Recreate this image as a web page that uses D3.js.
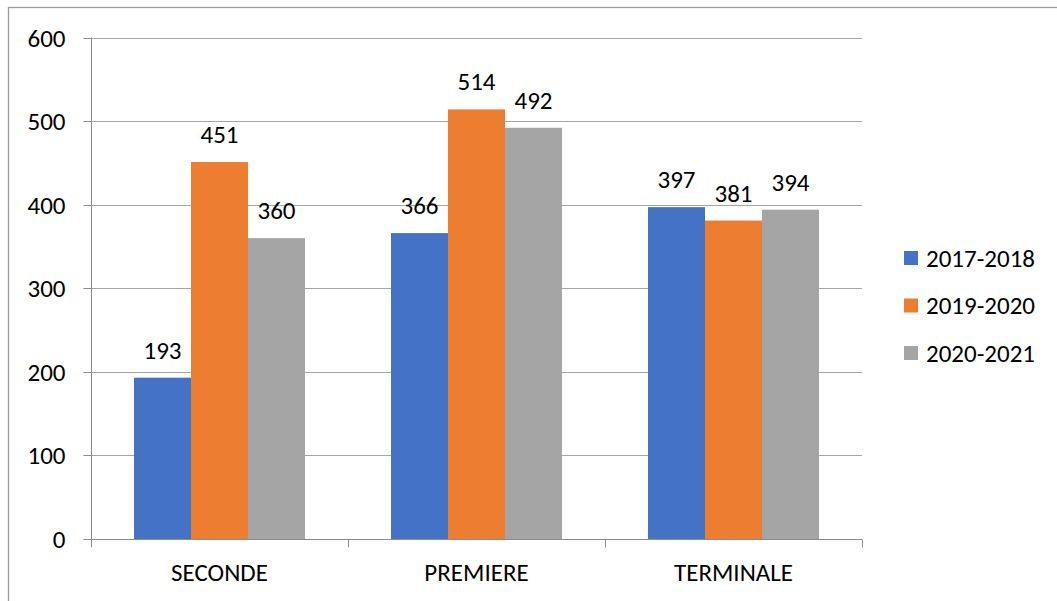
<!DOCTYPE html>
<html><head><meta charset="utf-8">
<script src="https://cdn.jsdelivr.net/npm/d3@7"></script>
<style>body{margin:0;background:#fff}svg{display:block}text{font-family:Carlito,"Open Sans","Liberation Sans",sans-serif;fill:#000}</style>
</head><body><svg id="c" width="1057" height="601"></svg>
<script>
const categories = ["SECONDE", "PREMIERE", "TERMINALE"];
const seriesNames = ["2017-2018", "2019-2020", "2020-2021"];
const values2017 = [193, 366, 397];
const values2019 = [451, 514, 381];
const values2020 = [360, 492, 394];
const colors = ["#4472c4", "#ed7d31", "#a5a5a5"];
const yTicks = [0, 100, 200, 300, 400, 500, 600];

const series = [values2017, values2019, values2020];
const svg = d3.select("#c");
const fs = 25;

// outer frame
svg.append("rect").attr("x", 8.5).attr("y", 7.5).attr("width", 1060).attr("height", 600)
  .attr("fill", "none").attr("stroke", "#9a9a9a").attr("stroke-width", 1.3);

const L = 91, R = 862, T = 37.5, B = 539;
const y = d3.scaleLinear().domain([0, 600]).range([B, T]);
const x0 = d3.scaleBand().domain(categories).range([L, R]).paddingInner(0).paddingOuter(0);
const x1 = d3.scaleBand().domain(d3.range(3)).range([0, x0.bandwidth()]).paddingOuter(43/57).paddingInner(0);

// gridlines
svg.append("g").selectAll("line").data(yTicks.filter(d => d > 0)).join("line")
  .attr("x1", L).attr("x2", R).attr("y1", d => Math.round(y(d)) + 0.5).attr("y2", d => Math.round(y(d)) + 0.5)
  .attr("stroke", "#a6a6a6").attr("stroke-width", 1);

// y axis
const yAxis = d3.axisLeft(y).tickValues(yTicks).tickSize(8).tickPadding(18);
const gy = svg.append("g").attr("transform", `translate(${L + 0.5},0)`).call(yAxis);
gy.select(".domain").attr("stroke", "#8c8c8c").attr("d", `M0,${T}V${B}`);
gy.selectAll(".tick line").attr("stroke", "#8c8c8c");
gy.selectAll(".tick").attr("transform", d => `translate(0,${Math.round(y(d)) + 0.5})`);
gy.selectAll("text").style("font-size", fs + "px").style("font-family", null).attr("fill", "#000");

// bars
const g = svg.append("g");
categories.forEach((c, ci) => {
  series.forEach((s, si) => {
    g.append("rect")
      .attr("x", x0(c) + x1(si)).attr("y", y(s[ci]))
      .attr("width", x1.bandwidth()).attr("height", y(0) - y(s[ci]))
      .attr("fill", colors[si]);
    g.append("text")
      .attr("x", x0(c) + x1(si) + x1.bandwidth() / 2).attr("y", y(s[ci]) - 19)
      .attr("text-anchor", "middle").style("font-size", fs + "px").text(s[ci]);
  });
});

// x axis
const xAxis = d3.axisBottom(x0).tickSize(0).tickPadding(24);
const gx = svg.append("g").attr("transform", `translate(0,${B + 0.5})`).call(xAxis);
gx.select(".domain").attr("stroke", "#8c8c8c").attr("d", `M${L},0H${R}`);
gx.selectAll("text").style("font-size", fs + "px").style("font-family", null).attr("fill", "#000");
// category boundary ticks
gx.append("g").selectAll("line").data([L, L + x0.step(), L + 2 * x0.step(), R]).join("line")
  .attr("x1", d => Math.round(d) + 0.5).attr("x2", d => Math.round(d) + 0.5).attr("y1", 0).attr("y2", 8)
  .attr("stroke", "#8c8c8c");

// legend
const lg = svg.append("g");
seriesNames.forEach((n, i) => {
  const cy = 258 + i * 47.5;
  lg.append("rect").attr("x", 904).attr("y", cy - 7).attr("width", 14).attr("height", 14).attr("fill", colors[i]);
  lg.append("text").attr("x", 926).attr("y", cy).attr("dy", "0.35em").style("font-size", fs + "px").text(n);
});
</script></body></html>
